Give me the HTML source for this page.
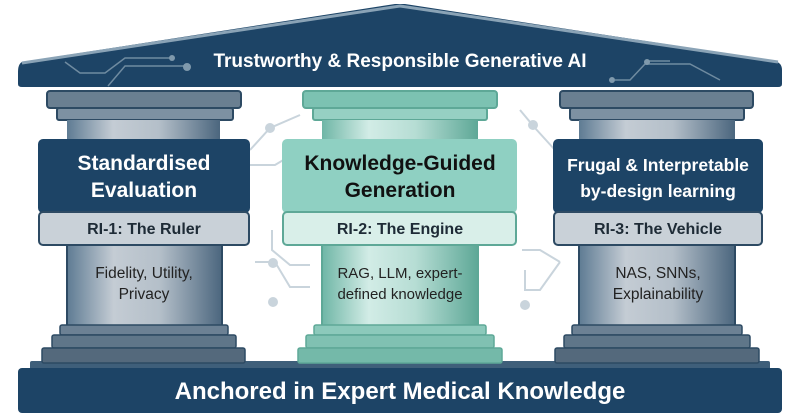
<!DOCTYPE html>
<html><head><meta charset="utf-8"><style>
html,body{margin:0;padding:0;background:#fff;}
svg{display:block;font-family:"Liberation Sans",sans-serif;}
</style></head><body>
<svg width="800" height="418" viewBox="0 0 800 418" xmlns="http://www.w3.org/2000/svg">
<defs>
<linearGradient id="gs" x1="0" x2="1"><stop offset="0" stop-color="#5e7b93"/><stop offset="0.3" stop-color="#c4ccd4"/><stop offset="0.6" stop-color="#b4bfc9"/><stop offset="1" stop-color="#4b667e"/></linearGradient>
<linearGradient id="gt" x1="0" x2="1"><stop offset="0" stop-color="#6fb6a6"/><stop offset="0.3" stop-color="#d2ece6"/><stop offset="0.6" stop-color="#b6ddd4"/><stop offset="1" stop-color="#5ea897"/></linearGradient>
</defs>
<!-- circuit background -->
<g stroke="#c9d4dc" stroke-width="2" fill="none">
<path d="M250 150 L270 128 L300 115 M250 165 L275 165 L300 150 M255 262 L275 262 L290 287 L310 287 M272 230 L272 250 L290 265 L310 265"/>
<path d="M520 110 L535 128 L555 150 M522 250 L540 250 L560 262 M525 270 L525 290 L540 290 L560 262"/>
</g>
<g fill="#c9d4dc"><circle cx="270" cy="128" r="5"/><circle cx="273" cy="263" r="5"/><circle cx="273" cy="302" r="5"/><circle cx="533" cy="125" r="5"/><circle cx="525" cy="305" r="5"/></g>
<!-- roof -->
<path d="M22 62 Q18 64 18 72 L18 84 Q18 87 22 87 L778 87 Q782 87 782 84 L782 70 Q782 63 775 61 L405 4 L395 4 Z" fill="#1d4466"/>
<path d="M22 63 L400 6 L778 62" stroke="#8aa3b6" stroke-width="3" fill="none"/>
<g stroke="#6f8ba0" stroke-width="1.5" fill="none"><path d="M65 62 L80 73 L105 73 L125 58 L172 58 M108 86 L125 66 L185 66"/><path d="M615 80 L630 80 L645 64 L690 64 L720 80 M648 61 L670 61"/></g>
<g fill="#7f99ac"><circle cx="172" cy="58" r="3"/><circle cx="187" cy="67" r="4"/><circle cx="647" cy="62" r="3"/><circle cx="612" cy="80" r="3"/></g>
<text x="400" y="67" text-anchor="middle" fill="#fff" font-size="19" font-weight="bold">Trustworthy &amp; Responsible Generative AI</text>

<!-- base -->
<rect x="30" y="361" width="740" height="9" rx="2" fill="#3f5f7a"/>
<rect x="18" y="368" width="764" height="45" rx="4" fill="#1d4466"/>
<text x="400" y="399" text-anchor="middle" fill="#fff" font-size="24" font-weight="bold">Anchored in Expert Medical Knowledge</text>

<!-- left pillar -->
<g>
<rect x="47" y="91" width="194" height="17" rx="3" fill="#6a7f91" stroke="#2d4a63" stroke-width="2"/>
<rect x="57" y="108" width="176" height="12" rx="2" fill="#7d91a2" stroke="#2d4a63" stroke-width="2"/>
<rect x="67" y="120" width="153" height="22" fill="url(#gs)"/>
<rect x="67" y="243" width="155" height="84" fill="url(#gs)" stroke="#2d4a63" stroke-width="2"/>
<rect x="60" y="325" width="168" height="10" rx="2" fill="#6c8194" stroke="#2d4a63" stroke-width="1.5"/>
<rect x="52" y="335" width="184" height="13" rx="2" fill="#5f7689" stroke="#2d4a63" stroke-width="1.5"/>
<rect x="42" y="348" width="203" height="15" rx="2" fill="#54697c" stroke="#2d4a63" stroke-width="1.5"/>
<rect x="38" y="139" width="212" height="74" rx="5" fill="#1d4466"/>
<rect x="39" y="212" width="210" height="33" rx="4" fill="#c9d1d8" stroke="#2d4a63" stroke-width="2"/>
<text x="144" y="170" text-anchor="middle" fill="#fff" font-size="21" font-weight="bold">Standardised</text>
<text x="144" y="197" text-anchor="middle" fill="#fff" font-size="21" font-weight="bold">Evaluation</text>
<text x="144" y="234" text-anchor="middle" fill="#1e2b36" font-size="16" font-weight="bold">RI-1: The Ruler</text>
<text x="144" y="278" text-anchor="middle" fill="#222" font-size="15.5">Fidelity, Utility,</text>
<text x="144" y="299" text-anchor="middle" fill="#222" font-size="15.5">Privacy</text>
</g>
<!-- middle pillar -->
<g>
<rect x="303" y="91" width="194" height="17" rx="3" fill="#7cc2b2" stroke="#5ea897" stroke-width="2"/>
<rect x="313" y="108" width="174" height="12" rx="2" fill="#96d0c3" stroke="#5ea897" stroke-width="2"/>
<rect x="322" y="120" width="156" height="22" fill="url(#gt)"/>
<rect x="322" y="243" width="156" height="84" fill="url(#gt)" stroke="#5ea897" stroke-width="2"/>
<rect x="314" y="325" width="172" height="10" rx="2" fill="#8cc9bb" stroke="#5ea897" stroke-width="1.5"/>
<rect x="306" y="335" width="188" height="13" rx="2" fill="#80c1b2" stroke="#5ea897" stroke-width="1.5"/>
<rect x="298" y="348" width="204" height="15" rx="2" fill="#74b9a9" stroke="#5ea897" stroke-width="1.5"/>
<rect x="282" y="139" width="235" height="74" rx="5" fill="#8fd0c2"/>
<rect x="283" y="212" width="233" height="33" rx="4" fill="#d9efe9" stroke="#5ea897" stroke-width="2"/>
<text x="400" y="170" text-anchor="middle" fill="#111" font-size="21" font-weight="bold">Knowledge-Guided</text>
<text x="400" y="197" text-anchor="middle" fill="#111" font-size="21" font-weight="bold">Generation</text>
<text x="400" y="234" text-anchor="middle" fill="#1e2b36" font-size="16" font-weight="bold">RI-2: The Engine</text>
<text x="400" y="278" text-anchor="middle" fill="#222" font-size="15">RAG, LLM, expert-</text>
<text x="400" y="299" text-anchor="middle" fill="#222" font-size="15">defined knowledge</text>
</g>
<!-- right pillar -->
<g>
<rect x="560" y="91" width="193" height="17" rx="3" fill="#6a7f91" stroke="#2d4a63" stroke-width="2"/>
<rect x="570" y="108" width="174" height="12" rx="2" fill="#7d91a2" stroke="#2d4a63" stroke-width="2"/>
<rect x="579" y="120" width="156" height="22" fill="url(#gs)"/>
<rect x="579" y="243" width="156" height="84" fill="url(#gs)" stroke="#2d4a63" stroke-width="2"/>
<rect x="572" y="325" width="170" height="10" rx="2" fill="#6c8194" stroke="#2d4a63" stroke-width="1.5"/>
<rect x="564" y="335" width="186" height="13" rx="2" fill="#5f7689" stroke="#2d4a63" stroke-width="1.5"/>
<rect x="555" y="348" width="204" height="15" rx="2" fill="#54697c" stroke="#2d4a63" stroke-width="1.5"/>
<rect x="553" y="139" width="210" height="74" rx="5" fill="#1d4466"/>
<rect x="554" y="212" width="208" height="33" rx="4" fill="#c9d1d8" stroke="#2d4a63" stroke-width="2"/>
<text x="658" y="171" text-anchor="middle" fill="#fff" font-size="17.5" font-weight="bold">Frugal &amp; Interpretable</text>
<text x="658" y="197" text-anchor="middle" fill="#fff" font-size="17.5" font-weight="bold">by-design learning</text>
<text x="658" y="234" text-anchor="middle" fill="#1e2b36" font-size="16" font-weight="bold">RI-3: The Vehicle</text>
<text x="658" y="278" text-anchor="middle" fill="#222" font-size="15.5">NAS, SNNs,</text>
<text x="658" y="299" text-anchor="middle" fill="#222" font-size="15.5">Explainability</text>
</g>
</svg>
</body></html>
